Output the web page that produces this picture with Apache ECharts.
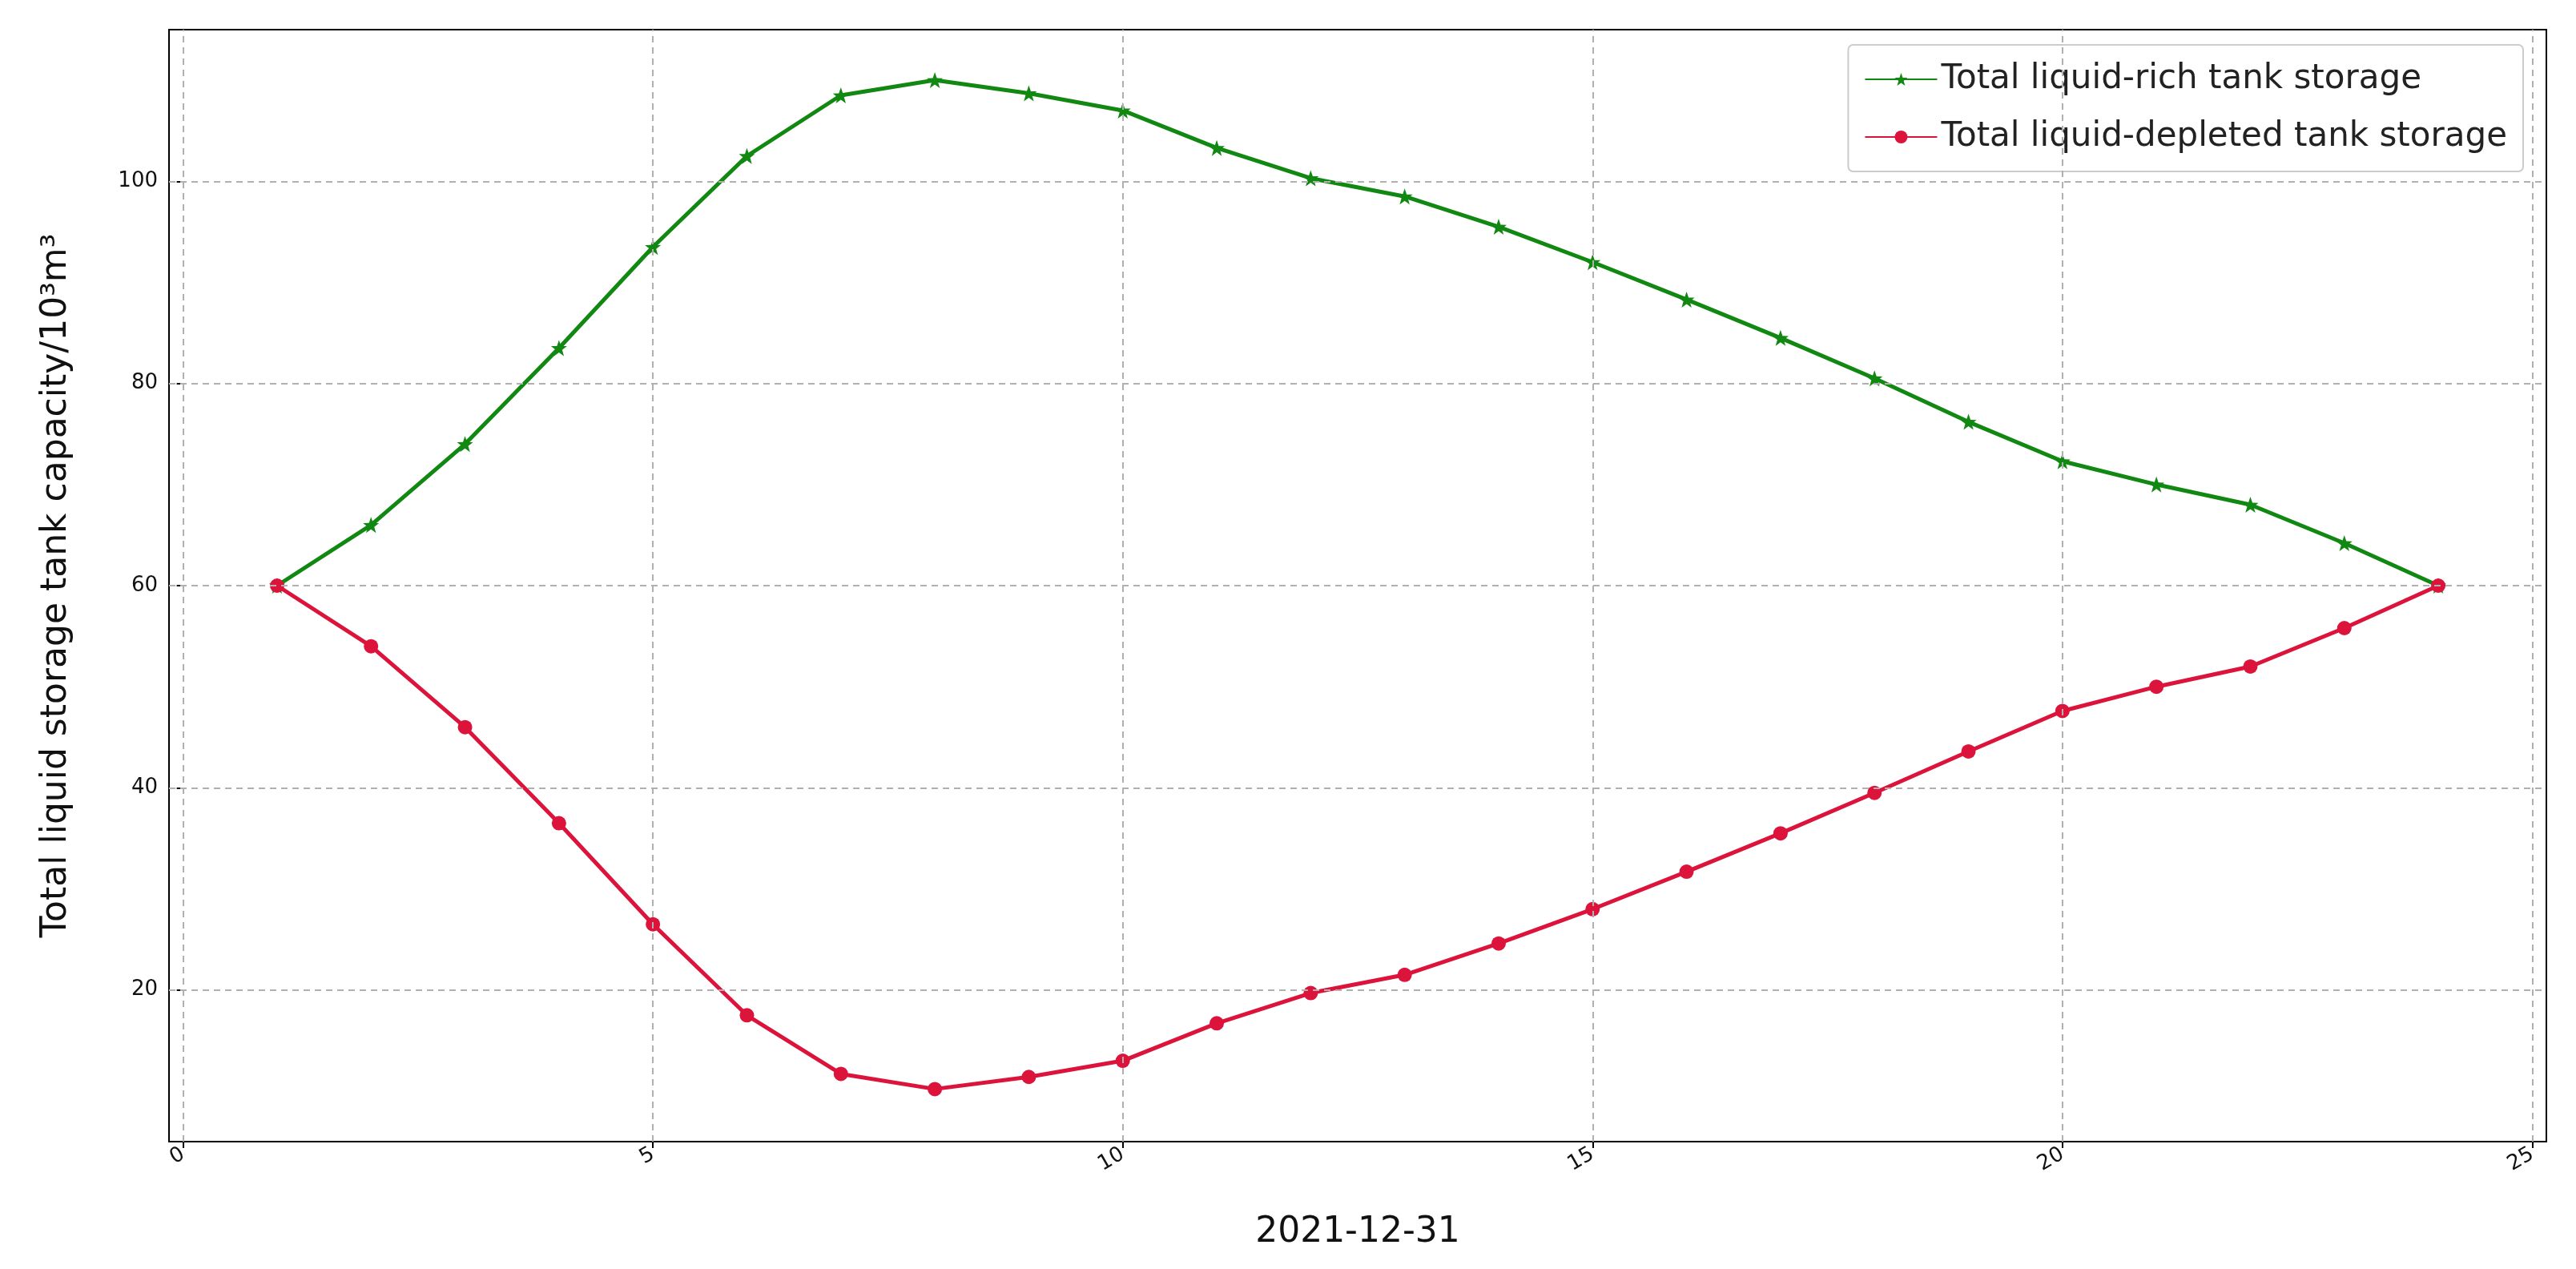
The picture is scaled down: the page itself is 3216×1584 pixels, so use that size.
<!DOCTYPE html>
<html><head><meta charset="utf-8">
<script src="https://cdn.jsdelivr.net/npm/echarts@6/dist/echarts.min.js"></script>
<style>html,body{margin:0;background:#fff}#c{width:3216px;height:1584px}</style>
</head><body><div id="c"></div>
<script>
const hours = [1,2,3,4,5,6,7,8,9,10,11,12,13,14,15,16,17,18,19,20,21,22,23,24];
const richStorage = [60,66,74,83.5,93.5,102.5,108.5,110,108.7,107,103.3,100.3,98.5,95.5,92,88.3,84.5,80.5,76.2,72.3,70,68,64.2,60];
const depletedStorage = [60,54,46,36.5,26.5,17.5,11.7,10.2,11.4,13,16.7,19.7,21.5,24.6,28,31.7,35.5,39.5,43.6,47.6,50,52,55.8,60];
const xTicks = [0,5,10,15,20,25];
const yTicks = [20,40,60,80,100];

const gridLines = xTicks.map(v => ({xAxis: v})).concat(yTicks.map(v => ({yAxis: v})));
const pair = arr => hours.map((h, i) => [h, arr[i]]);
const star = 'path://M0,-10 L2.4,-3.2 9.5,-3.1 3.8,1.2 5.9,8.1 0,4 -5.9,8.1 -3.8,1.2 -9.5,-3.1 -2.4,-3.2Z';

let chart = echarts.init(document.getElementById('c'));
chart.setOption({
  animation: false,
  textStyle: {fontFamily: 'DejaVu Sans'},
  grid: {left: 211, right: 37, top: 37, bottom: 159, show: true, borderColor: '#000', borderWidth: 2},
  legend: {
    right: 66, top: 56, orient: 'vertical', itemWidth: 90, itemHeight: 20, itemGap: 30,
    padding: [22, 20], borderColor: '#ccc', borderWidth: 2, borderRadius: 6,
    textStyle: {fontSize: 42, color: '#222'},
    data: ['Total liquid-rich tank storage', 'Total liquid-depleted tank storage']
  },
  xAxis: {
    type: 'value', min: -0.15, max: 25.15,
    name: '2021-12-31', nameLocation: 'middle', nameGap: 92,
    nameTextStyle: {fontSize: 44, color: '#111'},
    axisLine: {show: false},
    axisTick: {show: true, length: 8, lineStyle: {color: '#000', width: 2}, customValues: xTicks},
    axisLabel: {fontSize: 26, color: '#111', rotate: 30, margin: 14, customValues: xTicks},
    splitLine: {show: false}
  },
  yAxis: {
    type: 'value', min: 5, max: 115,
    name: 'Total liquid storage tank capacity/10³m³', nameLocation: 'middle', nameGap: 118,
    nameTextStyle: {fontSize: 44, color: '#111'},
    axisLine: {show: false},
    axisTick: {show: true, length: 8, lineStyle: {color: '#000', width: 2}, customValues: yTicks},
    axisLabel: {fontSize: 26, color: '#111', margin: 14, customValues: yTicks},
    splitLine: {show: false}
  },
  series: [
    {
      name: 'Total liquid-rich tank storage', type: 'line', data: pair(richStorage),
      color: '#118811', lineStyle: {width: 5}, symbol: star, symbolSize: 20, z: 3,
      markLine: {silent: true, symbol: 'none', label: {show: false}, animation: false,
        lineStyle: {color: '#b0b0b0', type: [8, 6], width: 2}, data: gridLines}
    },
    {
      name: 'Total liquid-depleted tank storage', type: 'line', data: pair(depletedStorage),
      color: '#dc143c', lineStyle: {width: 5}, symbol: 'circle', symbolSize: 18, z: 4
    }
  ]
});
</script></body></html>
